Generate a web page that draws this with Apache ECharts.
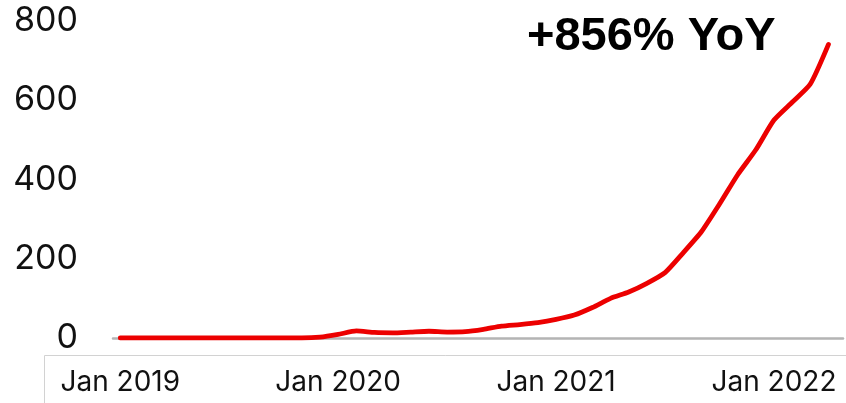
<!DOCTYPE html>
<html>
<head>
<meta charset="utf-8">
<script src="https://cdn.jsdelivr.net/npm/echarts@6/dist/echarts.min.js"></script>
<style>
html,body{margin:0;padding:0;background:#fff;}
#chart{width:846px;height:403px;}
</style>
</head>
<body>
<div id="chart"></div>
<script>
// Months from Jan 2019 to Apr 2022
var months = [
  'Jan 2019','Feb 2019','Mar 2019','Apr 2019','May 2019','Jun 2019','Jul 2019','Aug 2019','Sep 2019','Oct 2019','Nov 2019','Dec 2019',
  'Jan 2020','Feb 2020','Mar 2020','Apr 2020','May 2020','Jun 2020','Jul 2020','Aug 2020','Sep 2020','Oct 2020','Nov 2020','Dec 2020',
  'Jan 2021','Feb 2021','Mar 2021','Apr 2021','May 2021','Jun 2021','Jul 2021','Aug 2021','Sep 2021','Oct 2021','Nov 2021','Dec 2021',
  'Jan 2022','Feb 2022','Mar 2022','Apr 2022'
];
var values = [
  0,0,0,0,0,0,0,0,0,0,0,2,
  9,18,14,13,15,17,15,16,22,30,34,39,
  47,58,77,100,116,138,165,215,268,338,412,475,
  550,595,641,741
];
var xTickIdx = [0, 12, 24, 36];
var yTicks = [0, 200, 400, 600, 800];
var annotation = '+856% YoY';

var chart = echarts.init(document.getElementById('chart'), null, {renderer:'canvas'});
var seriesData = values.map(function(v, i){ return [i, v]; });
chart.setOption({
  animation: false,
  backgroundColor: '#fff',
  grid: {left: 113, right: 3, top: 21, bottom: 65, containLabel: false},
  graphic: [
    {type: 'rect', left: 44, top: 355, shape: {width: 820, height: 60},
     style: {fill: '#fff', stroke: '#d2d2d2', lineWidth: 1}, z: -1},
    {type: 'text', left: 527, top: 14,
     style: {text: annotation, font: 'bold 47px "Liberation Sans", Arial, sans-serif', fill: '#000'}}
  ],
  xAxis: {
    type: 'value', min: -0.4, max: 39.8,
    axisLine: {show: true, onZero: true, lineStyle: {color: '#b4b4b4', width: 2.5}},
    axisTick: {show: false},
    splitLine: {show: false},
    axisLabel: {
      customValues: xTickIdx,
      formatter: function(v){ return months[Math.round(v)]; },
      fontFamily: 'Inter, "Liberation Sans", Arial, sans-serif',
      fontSize: 28, color: '#111', margin: 31
    }
  },
  yAxis: {
    type: 'value', min: yTicks[0], max: yTicks[yTicks.length-1], interval: 200,
    axisLine: {show: false}, axisTick: {show: false}, splitLine: {show: false},
    axisLabel: {fontFamily: 'Inter, "Liberation Sans", Arial, sans-serif', fontSize: 34, color: '#111', margin: 35}
  },
  series: [{
    type: 'line', data: seriesData, showSymbol: false, smooth: 0.2,
    lineStyle: {color: '#ec0000', width: 4.8, cap: 'round', join: 'round'}
  }]
});
</script>
</body>
</html>
